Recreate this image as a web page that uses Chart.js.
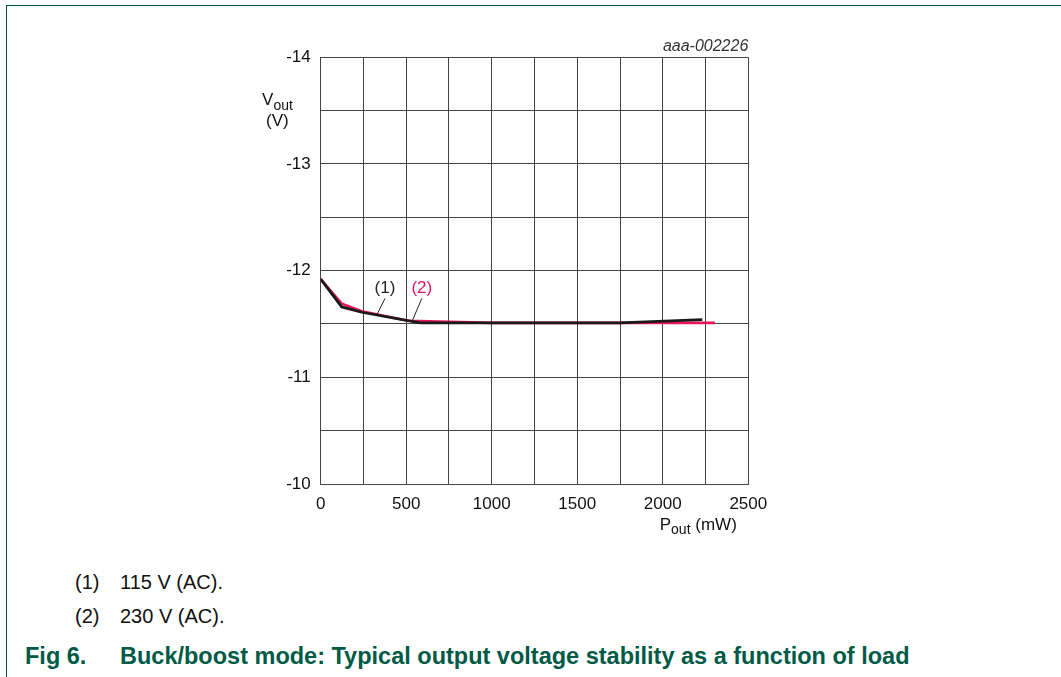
<!DOCTYPE html>
<html>
<head>
<meta charset="utf-8">
<script src="https://cdn.jsdelivr.net/npm/chart.js@4.4.0/dist/chart.umd.min.js"></script>
<style>
  html, body { margin: 0; padding: 0; background: #fff; }
  #page { position: relative; width: 1061px; height: 677px; overflow: hidden; font-family: "Liberation Sans", Arial, sans-serif; }
  #frame { position: absolute; left: 6px; top: 5px; width: 1070px; height: 700px; border-left: 1.5px solid #00503f; border-top: 1.5px solid #00503f; }
  #voutChart { position: absolute; left: 0; top: 0; }
  .note { position: absolute; left: 75px; font-size: 20px; line-height: 20px; color: #111; white-space: nowrap; }
  .note span { display: inline-block; width: 45px; }
  #caption { position: absolute; left: 25px; top: 645px; font-size: 23.5px; line-height: 23.5px; font-weight: bold; color: #005a46; white-space: nowrap; }
  #caption span { display: inline-block; width: 95px; }
</style>
</head>
<body>
<div id="page">
  <div id="frame"></div>
  <canvas id="voutChart" width="1061" height="560"></canvas>
  <div class="note" style="top:572px"><span>(1)</span>115 V (AC).</div>
  <div class="note" style="top:606px"><span>(2)</span>230 V (AC).</div>
  <div id="caption"><span>Fig 6.</span>Buck/boost mode: Typical output voltage stability as a function of load</div>
</div>
<script>
// Vout (V) vs Pout (mW)
const pout115 = [0, 123, 240, 581, 1000, 1500, 1750, 2231];
const vout115 = [-11.92, -11.66, -11.61, -11.51, -11.51, -11.51, -11.51, -11.54];
const pout230 = [0, 123, 240, 510, 1000, 1500, 1750, 2305];
const vout230 = [-11.92, -11.69, -11.62, -11.53, -11.51, -11.51, -11.51, -11.51];
const xTickLabels = ['0', '500', '1000', '1500', '2000', '2500'];
const yTickLabels = ['-14', '-13', '-12', '-11', '-10'];

// curve labels: [text, colour, label x, label y, line from y, line to x, line to y] (data units)
const curveLabels = [
  ['(1)', '#222', 376, -11.79, -11.74, 331, -11.594],
  ['(2)', '#e5175a', 591, -11.79, -11.74, 533, -11.52]
];

const FONT = '"Liberation Sans", Arial, sans-serif';
const toPoints = (xs, ys) => xs.map((x, i) => ({ x: x, y: ys[i] }));

const annotate = {
  id: 'annotate',
  afterDatasetsDraw(chart) {
    const ctx = chart.ctx;
    const xs = chart.scales.x, ys = chart.scales.y;
    const area = chart.chartArea;
    ctx.save();
    ctx.font = '17px ' + FONT;
    ctx.textAlign = 'center';
    ctx.textBaseline = 'alphabetic';
    curveLabels.forEach(l => {
      const px = xs.getPixelForValue(l[2]);
      ctx.fillStyle = l[1];
      ctx.fillText(l[0], px, ys.getPixelForValue(l[3]));
      ctx.strokeStyle = '#222';
      ctx.lineWidth = 1;
      ctx.beginPath();
      ctx.moveTo(px, ys.getPixelForValue(l[4]));
      ctx.lineTo(xs.getPixelForValue(l[5]), ys.getPixelForValue(l[6]));
      ctx.stroke();
    });
    // figure code
    ctx.fillStyle = '#333';
    ctx.font = 'italic 16px ' + FONT;
    ctx.textAlign = 'right';
    ctx.fillText('aaa-002226', area.right, area.top - 6.5);
    // y axis title
    ctx.fillStyle = '#111';
    ctx.font = '17px ' + FONT;
    ctx.textAlign = 'left';
    ctx.fillText('V', 262, 105);
    ctx.font = '14px ' + FONT;
    ctx.fillText('out', 273.5, 110);
    ctx.font = '17px ' + FONT;
    ctx.fillText('(V)', 266, 126);
    // x axis title
    ctx.textAlign = 'right';
    const right = area.right - 11.5;
    const base = area.bottom + 46;
    ctx.fillText(' (mW)', right, base);
    const w = ctx.measureText(' (mW)').width;
    ctx.font = '14px ' + FONT;
    const w2 = ctx.measureText('out').width;
    ctx.fillText('out', right - w, base + 4);
    ctx.font = '17px ' + FONT;
    ctx.fillText('P', right - w - w2, base);
    ctx.restore();
  }
};

new Chart(document.getElementById('voutChart'), {
  type: 'line',
  data: {
    datasets: [{
      label: '115 V (AC)',
      data: toPoints(pout115, vout115),
      borderColor: '#1a1a1a',
      borderWidth: 2.8,
      pointRadius: 0,
      tension: 0
    }, {
      label: '230 V (AC)',
      data: toPoints(pout230, vout230),
      borderColor: '#e5175a',
      borderWidth: 2.6,
      pointRadius: 0,
      tension: 0
    }]
  },
  options: {
    responsive: false,
    animation: false,
    layout: { padding: { left: 0, right: 312.7, top: 57.3, bottom: 0 } },
    plugins: { legend: { display: false }, tooltip: { enabled: false } },
    scales: {
      x: {
        type: 'linear',
        min: 0, max: 2500,
        afterFit: a => { a.height = 76; },
        grid: { color: '#444', lineWidth: 1, drawTicks: false },
        border: { color: '#444', width: 1 },
        ticks: {
          stepSize: 250,
          padding: 10,
          maxRotation: 0,
          autoSkip: false,
          color: '#111',
          font: { family: FONT, size: 17 },
          callback: v => (v % 500 === 0 ? xTickLabels[v / 500] : '')
        }
      },
      y: {
        type: 'linear',
        reverse: true,
        min: -14, max: -10,
        afterFit: a => { a.width = 320.7; },
        grid: { color: '#444', lineWidth: 1, drawTicks: false },
        border: { color: '#444', width: 1 },
        ticks: {
          stepSize: 0.5,
          padding: 10,
          autoSkip: false,
          color: '#111',
          font: { family: FONT, size: 17 },
          callback: v => (Number.isInteger(v) ? yTickLabels[v + 14] : '')
        }
      }
    }
  },
  plugins: [annotate]
});
</script>
</body>
</html>
